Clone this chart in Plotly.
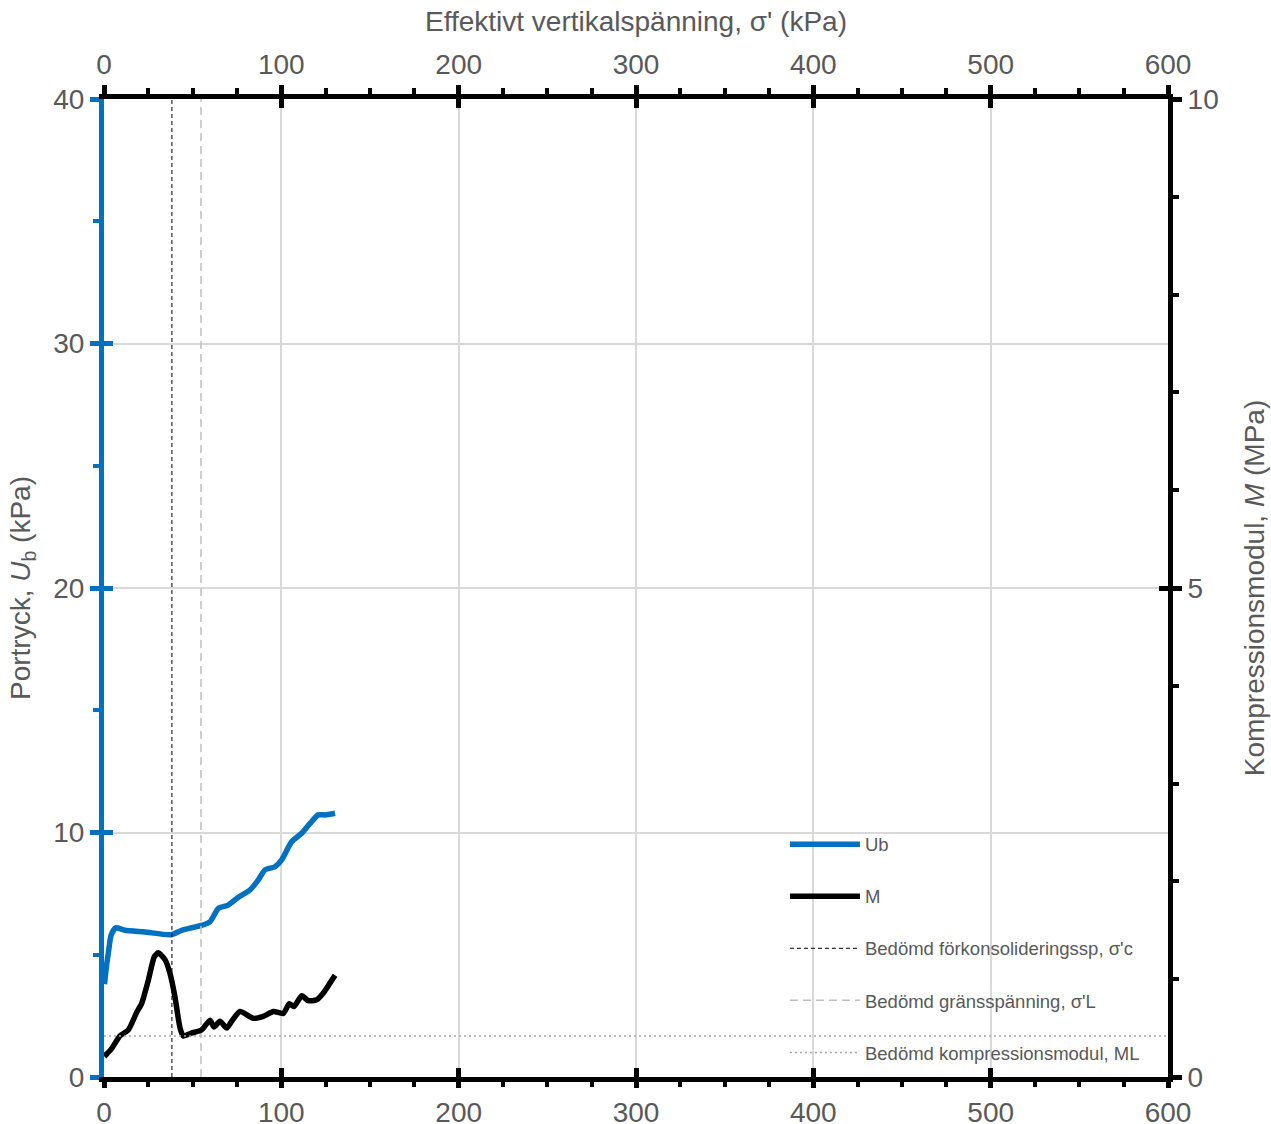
import plotly.graph_objects as go

# Porttryck Ub (kPa) mot effektiv vertikalspänning (kPa)
ub_sigma = [0.3, 1.5, 2.5, 4.0, 6.6, 11.8, 23.0, 38.0, 43.8, 55.0, 59.8, 64.5, 70.0,
            75.8, 82.3, 87.0, 90.8, 96.4, 100.2, 105.8, 111.5, 116.2, 120.8, 124.6, 130.3]
ub_kpa = [3.8, 4.6, 5.1, 5.8, 6.1, 6.0, 5.93, 5.82, 6.0, 6.2, 6.35, 6.9, 7.03,
          7.35, 7.65, 8.06, 8.47, 8.6, 8.88, 9.62, 9.97, 10.37, 10.72, 10.72, 10.79]

# Kompressionsmodul M (MPa) mot effektiv vertikalspänning (kPa)
m_sigma = [0.2, 4.3, 9.0, 13.7, 18.4, 21.2, 25.0, 28.4, 30.6, 34.4, 37.2, 40.0, 42.9,
           44.7, 49.5, 55.0, 59.8, 62.0, 65.4, 69.2, 72.0, 76.7, 84.2, 89.8, 95.5,
           101.1, 104.5, 107.1, 111.5, 115.2, 119.9, 123.7, 127.4, 130.3]
m_mpa = [0.21, 0.29, 0.42, 0.48, 0.66, 0.75, 0.99, 1.23, 1.27, 1.20, 1.06, 0.82, 0.50,
         0.42, 0.45, 0.48, 0.58, 0.51, 0.57, 0.50, 0.57, 0.67, 0.60, 0.62, 0.67,
         0.65, 0.75, 0.72, 0.83, 0.78, 0.79, 0.86, 0.96, 1.04]

# Bedömda parametrar
sigma_c = 38.3   # kPa
sigma_L = 54.7   # kPa
m_L = 0.42       # MPa

x_range = [0, 600]
ub_range = [0, 40]
m_range = [0, 10]
x_major = [0, 100, 200, 300, 400, 500, 600]
ub_major = [0, 10, 20, 30, 40]
m_major = [0, 5, 10]

BLUE = "#0070C0"
GRAY_TXT = "#595959"
GRID = "#D9D9D9"
FONT = "Liberation Sans, Arial, sans-serif"

fig = go.Figure()

fig.add_trace(go.Scatter(x=ub_sigma, y=ub_kpa, mode="lines", name="Ub",
                         line=dict(color=BLUE, width=5.5, shape="spline", smoothing=0.6),
                         legendgroup="a", xaxis="x", yaxis="y"))
fig.add_trace(go.Scatter(x=m_sigma, y=m_mpa, mode="lines", name="M",
                         line=dict(color="black", width=5.5, shape="spline", smoothing=0.6),
                         legendgroup="b", xaxis="x", yaxis="y2"))
fig.add_trace(go.Scatter(x=[sigma_c, sigma_c], y=ub_range, mode="lines",
                         name="Bedömd förkonsolideringssp, σ'c",
                         line=dict(color="black", width=1, dash="4px,3px"),
                         legendgroup="c", xaxis="x", yaxis="y"))
fig.add_trace(go.Scatter(x=[sigma_L, sigma_L], y=ub_range, mode="lines",
                         name="Bedömd gränsspänning, σ'L",
                         line=dict(color="#BFBFBF", width=1.5, dash="8px,5px"),
                         legendgroup="d", xaxis="x", yaxis="y"))
fig.add_trace(go.Scatter(x=x_range, y=[m_L, m_L], mode="lines",
                         name="Bedömd kompressionsmodul, ML",
                         line=dict(color="#A6A6A6", width=1.5, dash="2px,3px"),
                         legendgroup="e", xaxis="x", yaxis="y2"))

# empty traces so the top axis and the tick-overlay axes are rendered
for xa, ya in [("x2", "y3"), ("x3", "y4"), ("x4", "y")]:
    fig.add_trace(go.Scatter(x=[None], y=[None], mode="lines", showlegend=False,
                             hoverinfo="skip", xaxis=xa, yaxis=ya))

tick_font = dict(family=FONT, size=28, color=GRAY_TXT)
title_font = dict(family=FONT, size=28, color=GRAY_TXT)

fig.update_layout(
    width=1271, height=1124,
    margin=dict(l=104, r=103, t=99, b=47),
    paper_bgcolor="white", plot_bgcolor="white",
    font=dict(family=FONT, color=GRAY_TXT),
    showlegend=True,
    legend=dict(x=0.640, y=0.257, xanchor="left", yanchor="top",
                bgcolor="rgba(0,0,0,0)", font=dict(family=FONT, size=18.5, color=GRAY_TXT),
                tracegroupgap=25, itemwidth=70),
    xaxis=dict(range=x_range, tickvals=x_major, showgrid=True, gridcolor=GRID, gridwidth=1.5,
               zeroline=False, showline=True, linecolor="black", linewidth=5,
               ticks="outside", ticklen=6, tickwidth=5, tickcolor="black",
               minor=dict(dtick=25, ticks="outside", ticklen=5, tickwidth=4, tickcolor="black",
                          showgrid=False),
               tickfont=tick_font, anchor="y", side="bottom", automargin=False),
    xaxis2=dict(range=x_range, tickvals=x_major, overlaying="x", side="top", anchor="y",
                showgrid=False, zeroline=False, showline=True, linecolor="black", linewidth=5,
                ticks="outside", ticklen=9, tickwidth=5, tickcolor="black",
                minor=dict(dtick=25, ticks="outside", ticklen=6, tickwidth=4, tickcolor="black"),
                tickfont=tick_font, automargin=False,
                title=dict(text="Effektivt vertikalspänning, σ' (kPa)", font=title_font, standoff=10)),
    yaxis=dict(range=ub_range, tickvals=ub_major, showgrid=True, gridcolor=GRID, gridwidth=1.5,
               zeroline=False, showline=True, linecolor=BLUE, linewidth=5,
               ticks="outside", ticklen=9, tickwidth=5, tickcolor=BLUE,
               minor=dict(dtick=5, ticks="outside", ticklen=6, tickwidth=4, tickcolor=BLUE,
                          showgrid=False),
               tickfont=tick_font, anchor="x", side="left", automargin=False,
               title=dict(text="Portryck, <i>U</i><sub>b</sub> (kPa)", font=title_font, standoff=16)),
    yaxis2=dict(range=m_range, tickvals=m_major, overlaying="y", side="right", anchor="x",
                showgrid=False, zeroline=False, showline=True, linecolor="black", linewidth=5,
                ticks="outside", ticklen=9, tickwidth=5, tickcolor="black",
                minor=dict(dtick=1, ticks="outside", ticklen=6, tickwidth=4, tickcolor="black"),
                tickfont=tick_font, automargin=False,
                title=dict(text="Kompressionsmodul, <i>M</i> (MPa)", font=title_font, standoff=28)),
    # inner halves of the major ticks, so they cross the axis lines
    xaxis3=dict(range=x_range, tickvals=x_major, overlaying="x", side="bottom", anchor="y",
                showgrid=False, zeroline=False, showline=False, showticklabels=False,
                ticks="inside", ticklen=9, tickwidth=5, tickcolor="black", automargin=False),
    xaxis4=dict(range=x_range, tickvals=x_major, overlaying="x", side="top", anchor="y",
                showgrid=False, zeroline=False, showline=False, showticklabels=False,
                ticks="inside", ticklen=9, tickwidth=5, tickcolor="black", automargin=False),
    yaxis3=dict(range=ub_range, tickvals=ub_major, overlaying="y", side="left", anchor="x",
                showgrid=False, zeroline=False, showline=False, showticklabels=False,
                ticks="inside", ticklen=9, tickwidth=5, tickcolor=BLUE, automargin=False),
    yaxis4=dict(range=m_range, tickvals=m_major, overlaying="y", side="right", anchor="x",
                showgrid=False, zeroline=False, showline=False, showticklabels=False,
                ticks="inside", ticklen=9, tickwidth=5, tickcolor="black", automargin=False),
)

fig.write_html("out.html")
